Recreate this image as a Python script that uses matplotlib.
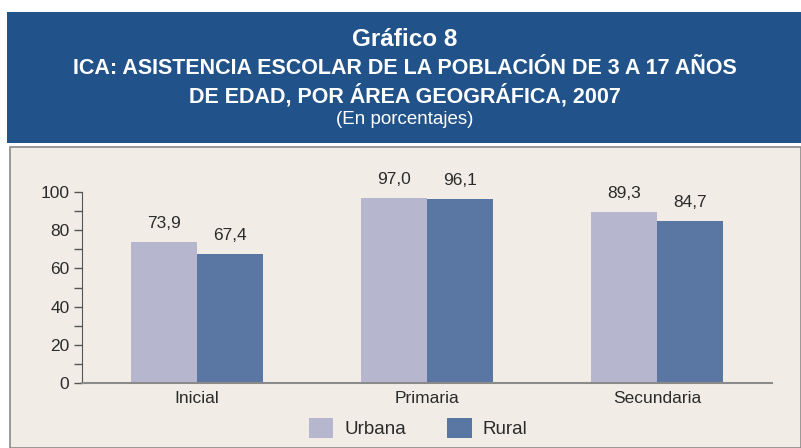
import matplotlib
matplotlib.use("Agg")
import matplotlib.pyplot as plt
from matplotlib.patches import Rectangle
import numpy as np

# Data
categories = ["Inicial", "Primaria", "Secundaria"]
urbana = [73.9, 97.0, 89.3]
rural = [67.4, 96.1, 84.7]
series_names = ["Urbana", "Rural"]

urbana_color = "#b6b6cf"
rural_color = "#5a77a3"
header_color = "#21538a"
panel_color = "#f1ede6"
text_color = "#2b2b2b"

plt.rcParams["font.family"] = ["Liberation Sans", "DejaVu Sans"]

W, H = 801, 448
fig = plt.figure(figsize=(W / 100, H / 100), dpi=100)
fig.patch.set_facecolor("white")


def fx(px):
    return px / W


def fy(py):
    return 1 - py / H


# header band and beige panel
fig.patches.append(Rectangle((fx(7), fy(143)), fx(801 - 7), 131 / H,
                             transform=fig.transFigure, facecolor=header_color,
                             edgecolor="none", zorder=-2))
fig.patches.append(Rectangle((fx(10), 0), fx(801 - 10), fy(147),
                             transform=fig.transFigure, facecolor=panel_color,
                             edgecolor="#8a8a8a", linewidth=1.2, zorder=-2))

fig.text(0.505, fy(39), "Gráfico 8", ha="center", va="center", color="white",
         fontsize=17.5, fontweight="bold")
fig.text(0.505, fy(68), "ICA: ASISTENCIA ESCOLAR DE LA POBLACIÓN DE 3 A 17 AÑOS",
         ha="center", va="center", color="white", fontsize=15.5, fontweight="bold")
fig.text(0.505, fy(96), "DE EDAD, POR ÁREA GEOGRÁFICA, 2007",
         ha="center", va="center", color="white", fontsize=15.5, fontweight="bold")
fig.text(0.505, fy(119), "(En porcentajes)", ha="center", va="center",
         color="white", fontsize=13.5)

ax = fig.add_axes([fx(82), fy(383), fx(772 - 82), (383 - 192) / H])
ax.set_facecolor("none")
ax.set_zorder(2)

x = np.arange(len(categories))
width = 0.287
b1 = ax.bar(x - width / 2, urbana, width, color=urbana_color, label=series_names[0])
b2 = ax.bar(x + width / 2, rural, width, color=rural_color, label=series_names[1])

for bars in (b1, b2):
    for bar in bars:
        h = bar.get_height()
        ax.annotate(f"{h:.1f}".replace(".", ","),
                    (bar.get_x() + bar.get_width() / 2, h),
                    xytext=(0, 8), textcoords="offset points",
                    ha="center", va="bottom", fontsize=12.5, color=text_color)

ax.set_xlim(-0.5, 2.5)
ax.set_ylim(0, 100)
ax.set_yticks(range(0, 101, 20))
ax.set_yticks(range(10, 100, 20), minor=True)
ax.set_xticks(x)
ax.set_xticklabels(categories)

for side in ("top", "right"):
    ax.spines[side].set_visible(False)
ax.spines["left"].set_color("#555555")
ax.spines["bottom"].set_color("#8a8a8a")
ax.spines["bottom"].set_linewidth(1.5)
ax.tick_params(axis="y", which="both", direction="out", length=6, width=1,
               color="#555555", labelsize=12.5, labelcolor=text_color, pad=3)
ax.tick_params(axis="x", length=0, labelsize=12.5, labelcolor=text_color, pad=6)

fig.legend(handles=[b1, b2], loc="center", bbox_to_anchor=(fx(418), fy(428)),
           ncol=2, frameon=False, fontsize=13.5, handlelength=1.3,
           handleheight=1.3, columnspacing=2.2, handletextpad=0.6,
           labelcolor=text_color)

fig.savefig("out.png", dpi=100)
